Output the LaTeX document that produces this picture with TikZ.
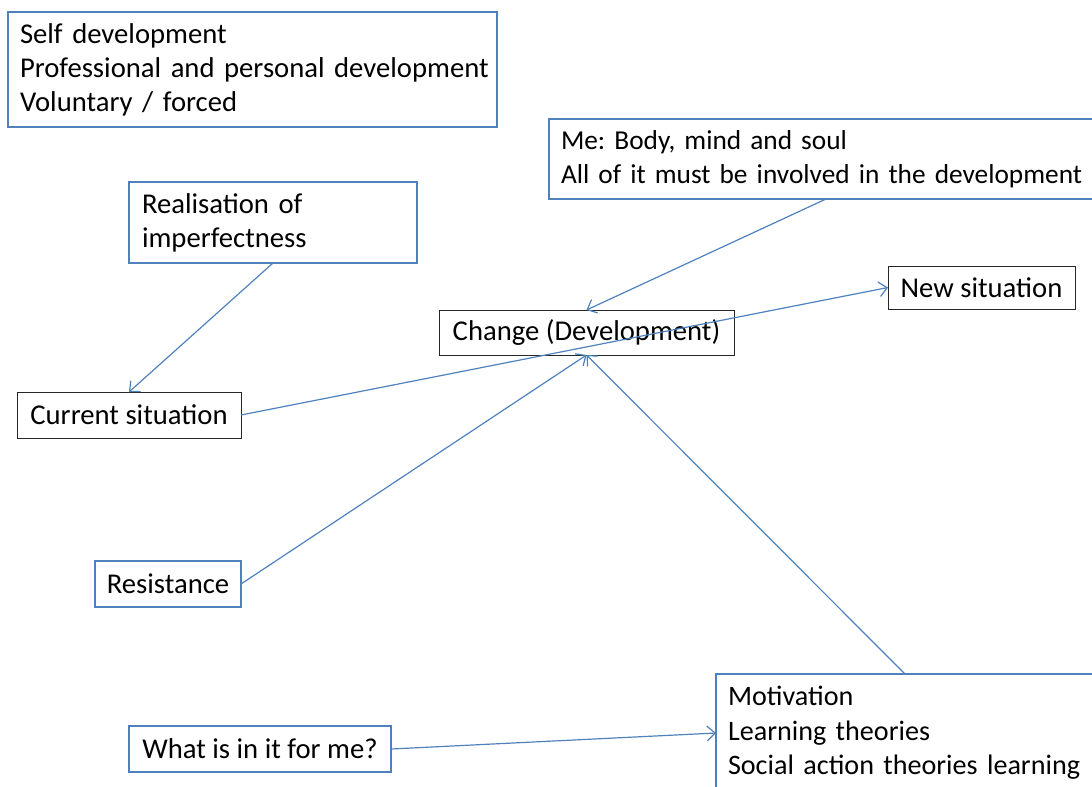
\documentclass[tikz,border=0pt]{standalone}
\usepackage{fontspec}
\setmainfont{Carlito}
\usetikzlibrary{arrows.meta}
\definecolor{ablue}{HTML}{4F81BD}
\frenchspacing
\newcommand{\boxfont}{\fontsize{21.5}{25.5}\selectfont}
\newcommand{\smallboxfont}{\fontsize{20.5}{25.5}\selectfont}
\newcommand{\motboxfont}{\fontsize{21.1}{25.8}\selectfont}
\begin{document}
\begin{tikzpicture}[x=0.75pt,y=-0.75pt,
  every node/.style={font=\boxfont, inner sep=0pt, outer sep=0pt},
  bbox/.style={draw=ablue, line width=0.9pt, rectangle},
  kbox/.style={draw=black!85, line width=0.75pt, rectangle},
  conn/.style={draw=ablue, line width=0.9pt, -{Straight Barb[length=6pt,width=11pt]}}]
\useasboundingbox (0,0) rectangle (1092,786);
\clip (0,0) rectangle (1092,786);
\node[bbox, anchor=north west, minimum width=489*0.75pt, minimum height=115*0.75pt, text width=465*0.75pt, align=left] (self) at (8,12)
  {\mbox{Self development}\\\mbox{Professional and personal development}\\\mbox{Voluntary / forced}};
\node[bbox, font=\smallboxfont, anchor=north west, minimum width=554*0.75pt, minimum height=80*0.75pt, text width=530*0.75pt, align=left] (me) at (549,119)
  {\mbox{Me: Body, mind and soul}\\\mbox{All of it must be involved in the development}};
\node[bbox, anchor=north west, minimum width=288*0.75pt, minimum height=81*0.75pt, text width=262*0.75pt, align=left] (real) at (129,182)
  {\mbox{Realisation of}\\\mbox{imperfectness}};
\node[kbox, anchor=north west, minimum width=187*0.75pt, minimum height=43*0.75pt] (new) at (888,266) {New situation};
\node[kbox, anchor=north west, minimum width=295*0.75pt, minimum height=45*0.75pt] (change) at (439,310) {Change (Development)};
\node[kbox, anchor=north west, minimum width=224*0.75pt, minimum height=46*0.75pt] (cur) at (17,392) {Current situation};
\node[bbox, anchor=north west, minimum width=146*0.75pt, minimum height=46*0.75pt] (res) at (95,561) {Resistance};
\node[bbox, anchor=north west, minimum width=262*0.75pt, minimum height=46*0.75pt] (what) at (129,726) {What is in it for me?};
\node[bbox, font=\motboxfont, anchor=north west, minimum width=378*0.75pt, minimum height=118*0.75pt, text width=354*0.75pt, align=left] (mot) at (716,674)
  {\mbox{Motivation}\\\mbox{Learning theories}\\\mbox{Social action theories learning}};
\draw[conn] (real.south) -- (cur.north);
\draw[conn] (me.south) -- (change.north);
\draw[conn] (cur.east) -- (new.west);
\draw[conn] (res.east) -- (change.south);
\draw[conn] (mot.north) -- (change.south);
\draw[conn] (what.east) -- (mot.west);
\end{tikzpicture}
\end{document}
